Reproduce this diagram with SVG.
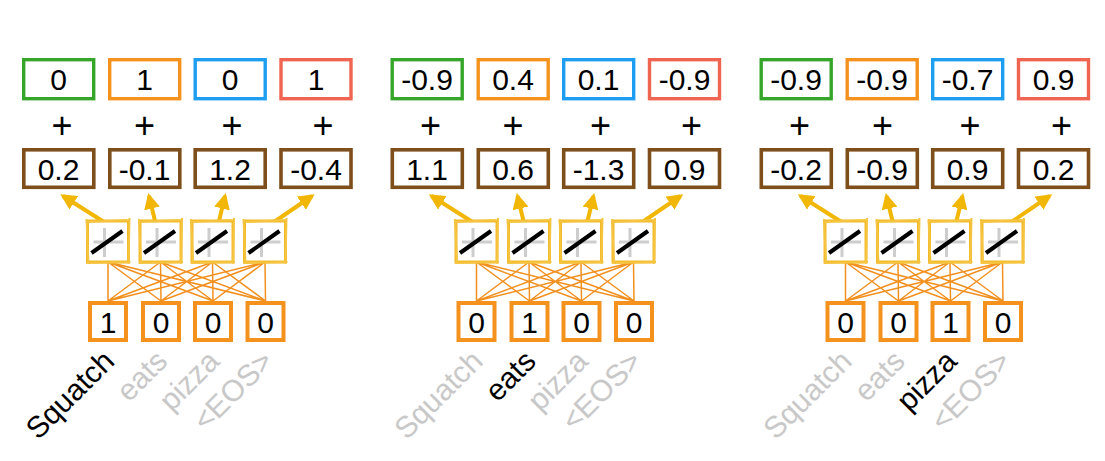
<svg xmlns="http://www.w3.org/2000/svg" xmlns:xlink="http://www.w3.org/1999/xlink" width="1105" height="461" viewBox="0 0 1105 461">
<style>
.num{font-family:"Liberation Sans",Arial,sans-serif;font-size:30px;fill:#000;text-anchor:middle}
.plus{font-family:"Liberation Sans",Arial,sans-serif;font-size:36px;fill:#000;text-anchor:middle}
.lbl{font-family:"Liberation Sans",Arial,sans-serif;font-size:30px;text-anchor:end}
.on{fill:#000}
.off{fill:#C8C8C8}
.bx{fill:#fff;stroke-width:3.4}
.g{stroke:#35A62A}.o{stroke:#F5921E}.b{stroke:#1E9EF0}.r{stroke:#F06452}
.br{fill:#fff;stroke:#7E4F1B;stroke-width:3.6}
.in{fill:#fff;stroke:#F5921E;stroke-width:4}
.fan{stroke:#F2901F;stroke-width:1.5;fill:none}
.arr{stroke:#F2B705;stroke-width:4;fill:none;marker-end:url(#ah)}
</style>
<defs>
<marker id="ah" viewBox="0 0 10 10" refX="8" refY="5" markerUnits="userSpaceOnUse" markerWidth="16" markerHeight="16" orient="auto">
<path d="M0,0 L10,5 L0,10 z" fill="#F2B705"/>
</marker>
<g id="act">
<rect x="0" y="0" width="41" height="41" fill="#fff" stroke="#F2BA28" stroke-width="3"/>
<path d="M-2,1 L42,-1 M42,-3 L41,43 M43,41 L-1,42 M1,43 L-1,-2" stroke="#F5C440" stroke-width="2" fill="none"/>
<line x1="17" y1="7" x2="17" y2="36" stroke="#CDCDCD" stroke-width="3"/>
<line x1="6" y1="21" x2="36" y2="21" stroke="#CDCDCD" stroke-width="3"/>
<line x1="4" y1="32" x2="35" y2="10" stroke="#000" stroke-width="4"/>
</g>
</defs>
<rect width="1105" height="461" fill="#fff"/>

<g id="connectors">
<g id="conn-p1">
<path class="fan" d="M108,262L108,301M108,262L161,301M108,262L213,301M108,262L265.5,301M160.5,262L108,301M160.5,262L161,301M160.5,262L213,301M160.5,262L265.5,301M212.5,262L108,301M212.5,262L161,301M212.5,262L213,301M212.5,262L265.5,301M265,262L108,301M265,262L161,301M265,262L213,301M265,262L265.5,301"/>
<path class="arr" d="M104,222L63,196"/>
<path class="arr" d="M155,221L149,196"/>
<path class="arr" d="M219,221L225,196"/>
<path class="arr" d="M274,222L312,196"/>
</g>
<g id="conn-p2" transform="translate(368.5,0)">
<path class="fan" d="M108,262L108,301M108,262L161,301M108,262L213,301M108,262L265.5,301M160.5,262L108,301M160.5,262L161,301M160.5,262L213,301M160.5,262L265.5,301M212.5,262L108,301M212.5,262L161,301M212.5,262L213,301M212.5,262L265.5,301M265,262L108,301M265,262L161,301M265,262L213,301M265,262L265.5,301"/>
<path class="arr" d="M104,222L63,196"/>
<path class="arr" d="M155,221L149,196"/>
<path class="arr" d="M219,221L225,196"/>
<path class="arr" d="M274,222L312,196"/>
</g>
<g id="conn-p3" transform="translate(737.5,0)">
<path class="fan" d="M108,262L108,301M108,262L161,301M108,262L213,301M108,262L265.5,301M160.5,262L108,301M160.5,262L161,301M160.5,262L213,301M160.5,262L265.5,301M212.5,262L108,301M212.5,262L161,301M212.5,262L213,301M212.5,262L265.5,301M265,262L108,301M265,262L161,301M265,262L213,301M265,262L265.5,301"/>
<path class="arr" d="M104,222L63,196"/>
<path class="arr" d="M155,221L149,196"/>
<path class="arr" d="M219,221L225,196"/>
<path class="arr" d="M274,222L312,196"/>
</g>
</g>

<!-- Panel 1 -->
<g id="panel1">
<g id="p1-top1"><rect class="bx g" x="23.7" y="59.7" width="70" height="39"/><text class="num" x="58.5" y="90">0</text></g>
<g id="p1-top2"><rect class="bx o" x="109.7" y="59.7" width="70" height="39"/><text class="num" x="144.5" y="90">1</text></g>
<g id="p1-top3"><rect class="bx b" x="195.2" y="59.7" width="70" height="39"/><text class="num" x="230" y="90">0</text></g>
<g id="p1-top4"><rect class="bx r" x="281" y="59.7" width="70" height="39"/><text class="num" x="316" y="90">1</text></g>
<g id="p1-plus"><text class="plus" x="62" y="138">+</text><text class="plus" x="144.5" y="138">+</text><text class="plus" x="232" y="138">+</text><text class="plus" x="323" y="138">+</text></g>
<g id="p1-emb1"><rect class="br" x="23.8" y="149.8" width="70" height="37.5"/><text class="num" x="58.5" y="179.5">0.2</text></g>
<g id="p1-emb2"><rect class="br" x="109.8" y="149.8" width="70" height="37.5"/><text class="num" x="144.5" y="179.5">-0.1</text></g>
<g id="p1-emb3"><rect class="br" x="195.2" y="149.8" width="70" height="37.5"/><text class="num" x="230" y="179.5">1.2</text></g>
<g id="p1-emb4"><rect class="br" x="281" y="149.8" width="70" height="37.5"/><text class="num" x="316" y="179.5">-0.4</text></g>
<g id="p1-act1"><use xlink:href="#act" x="87.5" y="221"/></g>
<g id="p1-act2"><use xlink:href="#act" x="140" y="221"/></g>
<g id="p1-act3"><use xlink:href="#act" x="192" y="221"/></g>
<g id="p1-act4"><use xlink:href="#act" x="244.5" y="221"/></g>
<g id="p1-in1"><rect class="in" x="90" y="303" width="36" height="37"/><text class="num" x="108" y="333">1</text></g>
<g id="p1-in2"><rect class="in" x="143" y="303" width="36" height="37"/><text class="num" x="161" y="333">0</text></g>
<g id="p1-in3"><rect class="in" x="195" y="303" width="36" height="37"/><text class="num" x="213" y="333">0</text></g>
<g id="p1-in4"><rect class="in" x="247.5" y="303" width="36" height="37"/><text class="num" x="265.5" y="333">0</text></g>
<g id="p1-labels">
<text class="lbl on" transform="translate(116,363) rotate(-45)">Squatch</text>
<text class="lbl off" transform="translate(169,363) rotate(-45)">eats</text>
<text class="lbl off" transform="translate(221,363) rotate(-45)">pizza</text>
<text class="lbl off" transform="translate(275,363) rotate(-45)">&lt;EOS&gt;</text>
</g>
</g>

<!-- Panel 2 -->
<g id="panel2" transform="translate(368.5,0)">
<g id="p2-top1"><rect class="bx g" x="23.7" y="59.7" width="70" height="39"/><text class="num" x="58.5" y="90">-0.9</text></g>
<g id="p2-top2"><rect class="bx o" x="109.7" y="59.7" width="70" height="39"/><text class="num" x="144.5" y="90">0.4</text></g>
<g id="p2-top3"><rect class="bx b" x="195.2" y="59.7" width="70" height="39"/><text class="num" x="230" y="90">0.1</text></g>
<g id="p2-top4"><rect class="bx r" x="281" y="59.7" width="70" height="39"/><text class="num" x="316" y="90">-0.9</text></g>
<g id="p2-plus"><text class="plus" x="62" y="138">+</text><text class="plus" x="144.5" y="138">+</text><text class="plus" x="232" y="138">+</text><text class="plus" x="323" y="138">+</text></g>
<g id="p2-emb1"><rect class="br" x="23.8" y="149.8" width="70" height="37.5"/><text class="num" x="58.5" y="179.5">1.1</text></g>
<g id="p2-emb2"><rect class="br" x="109.8" y="149.8" width="70" height="37.5"/><text class="num" x="144.5" y="179.5">0.6</text></g>
<g id="p2-emb3"><rect class="br" x="195.2" y="149.8" width="70" height="37.5"/><text class="num" x="230" y="179.5">-1.3</text></g>
<g id="p2-emb4"><rect class="br" x="281" y="149.8" width="70" height="37.5"/><text class="num" x="316" y="179.5">0.9</text></g>
<g id="p2-act1"><use xlink:href="#act" x="87.5" y="221"/></g>
<g id="p2-act2"><use xlink:href="#act" x="140" y="221"/></g>
<g id="p2-act3"><use xlink:href="#act" x="192" y="221"/></g>
<g id="p2-act4"><use xlink:href="#act" x="244.5" y="221"/></g>
<g id="p2-in1"><rect class="in" x="90" y="303" width="36" height="37"/><text class="num" x="108" y="333">0</text></g>
<g id="p2-in2"><rect class="in" x="143" y="303" width="36" height="37"/><text class="num" x="161" y="333">1</text></g>
<g id="p2-in3"><rect class="in" x="195" y="303" width="36" height="37"/><text class="num" x="213" y="333">0</text></g>
<g id="p2-in4"><rect class="in" x="247.5" y="303" width="36" height="37"/><text class="num" x="265.5" y="333">0</text></g>
<g id="p2-labels">
<text class="lbl off" transform="translate(116,363) rotate(-45)">Squatch</text>
<text class="lbl on" transform="translate(169,363) rotate(-45)">eats</text>
<text class="lbl off" transform="translate(221,363) rotate(-45)">pizza</text>
<text class="lbl off" transform="translate(275,363) rotate(-45)">&lt;EOS&gt;</text>
</g>
</g>

<!-- Panel 3 -->
<g id="panel3" transform="translate(737.5,0)">
<g id="p3-top1"><rect class="bx g" x="23.7" y="59.7" width="70" height="39"/><text class="num" x="58.5" y="90">-0.9</text></g>
<g id="p3-top2"><rect class="bx o" x="109.7" y="59.7" width="70" height="39"/><text class="num" x="144.5" y="90">-0.9</text></g>
<g id="p3-top3"><rect class="bx b" x="195.2" y="59.7" width="70" height="39"/><text class="num" x="230" y="90">-0.7</text></g>
<g id="p3-top4"><rect class="bx r" x="281" y="59.7" width="70" height="39"/><text class="num" x="316" y="90">0.9</text></g>
<g id="p3-plus"><text class="plus" x="62" y="138">+</text><text class="plus" x="145" y="138">+</text><text class="plus" x="232.5" y="138">+</text><text class="plus" x="324" y="138">+</text></g>
<g id="p3-emb1"><rect class="br" x="23.8" y="149.8" width="70" height="37.5"/><text class="num" x="58.5" y="179.5">-0.2</text></g>
<g id="p3-emb2"><rect class="br" x="109.8" y="149.8" width="70" height="37.5"/><text class="num" x="144.5" y="179.5">-0.9</text></g>
<g id="p3-emb3"><rect class="br" x="195.2" y="149.8" width="70" height="37.5"/><text class="num" x="230" y="179.5">0.9</text></g>
<g id="p3-emb4"><rect class="br" x="281" y="149.8" width="70" height="37.5"/><text class="num" x="316" y="179.5">0.2</text></g>
<g id="p3-act1"><use xlink:href="#act" x="87.5" y="221"/></g>
<g id="p3-act2"><use xlink:href="#act" x="140" y="221"/></g>
<g id="p3-act3"><use xlink:href="#act" x="192" y="221"/></g>
<g id="p3-act4"><use xlink:href="#act" x="244.5" y="221"/></g>
<g id="p3-in1"><rect class="in" x="90" y="303" width="36" height="37"/><text class="num" x="108" y="333">0</text></g>
<g id="p3-in2"><rect class="in" x="143" y="303" width="36" height="37"/><text class="num" x="161" y="333">0</text></g>
<g id="p3-in3"><rect class="in" x="195" y="303" width="36" height="37"/><text class="num" x="213" y="333">1</text></g>
<g id="p3-in4"><rect class="in" x="247.5" y="303" width="36" height="37"/><text class="num" x="265.5" y="333">0</text></g>
<g id="p3-labels">
<text class="lbl off" transform="translate(116,363) rotate(-45)">Squatch</text>
<text class="lbl off" transform="translate(169,363) rotate(-45)">eats</text>
<text class="lbl on" transform="translate(221,363) rotate(-45)">pizza</text>
<text class="lbl off" transform="translate(275,363) rotate(-45)">&lt;EOS&gt;</text>
</g>
</g>
</svg>
